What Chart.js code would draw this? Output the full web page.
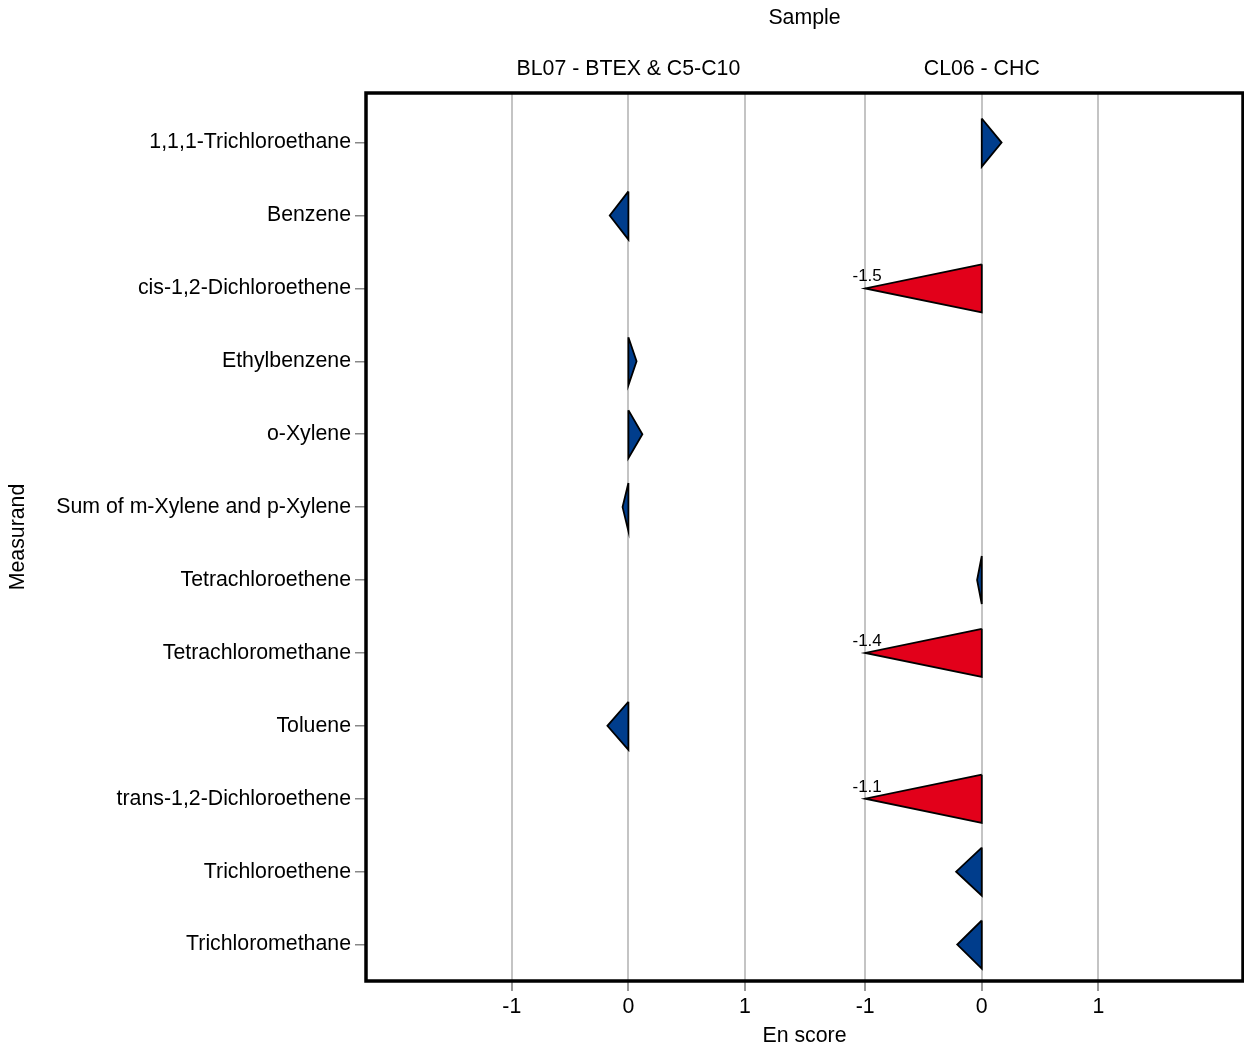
<!DOCTYPE html>
<html>
<head>
<meta charset="utf-8">
<script src="https://cdn.jsdelivr.net/npm/chart.js@4"></script>
<style>
body { margin: 0; background: #fff; }
#wrap { width: 1244px; height: 1050px; }
</style>
</head>
<body>
<div id="wrap"><canvas id="myChart"></canvas></div>
<script>
// Datos
const measurands = ['1,1,1-Trichloroethane', 'Benzene', 'cis-1,2-Dichloroethene', 'Ethylbenzene', 'o-Xylene',
    'Sum of m-Xylene and p-Xylene', 'Tetrachloroethene', 'Tetrachloromethane', 'Toluene',
    'trans-1,2-Dichloroethene', 'Trichloroethene', 'Trichloromethane']
const samples = ['BL07 - BTEX & C5-C10', 'CL06 - CHC']
const bl07 = [null, -0.16, null, 0.07, 0.12, -0.05, null, null, -0.18, null, null, null]
const cl06 = [0.17, null, -1.5, null, null, null, -0.04, -1.4, null, -1.1, -0.22, -0.21]
const xTickLabels = ['-1', '0', '1']
const xTickValues = [-1, 0, 1]
const panelOffset = [0, 3.03]

const font = '"Liberation Sans", Arial, sans-serif'
const azul = 'rgb(0, 61, 140)'
const rojo = 'rgb(226, 0, 26)'
const series = [bl07, cl06]

// triangulos
const datasets = []
series.forEach((serie, p) => {
    serie.forEach((v, i) => {
        if (v === null) return
        const shown = Math.max(-1, Math.min(1, v))
        const x0 = panelOffset[p]
        datasets.push({
            label: samples[p] + ' ' + measurands[i],
            data: [{ x: x0, y: i - 0.33 }, { x: x0 + shown, y: i }, { x: x0, y: i + 0.33 }, { x: x0, y: i - 0.33 }],
            showLine: true,
            fill: 'shape',
            backgroundColor: Math.abs(v) > 1 ? rojo : azul,
            borderColor: '#000',
            borderWidth: 1.8,
            borderJoinStyle: 'miter',
            pointRadius: 0,
            tension: 0
        })
    })
})

const extras = {
    id: 'extras',
    afterDatasetsDraw(chart) {
        const { ctx, chartArea, scales: { x, y } } = chart
        ctx.save()
        // etiquetas de valores fuera de rango
        ctx.font = '17px ' + font
        ctx.fillStyle = '#000'
        ctx.textAlign = 'center'
        ctx.textBaseline = 'alphabetic'
        series.forEach((serie, p) => serie.forEach((v, i) => {
            if (v === null || Math.abs(v) <= 1) return
            const px = x.getPixelForValue(panelOffset[p] + Math.sign(v))
            const py = y.getPixelForValue(i)
            ctx.fillText(v.toFixed(1), px + 2, py - 7)
        }))
        // marco
        ctx.strokeStyle = '#000'
        ctx.lineWidth = 3.5
        ctx.strokeRect(chartArea.left, chartArea.top, chartArea.right - chartArea.left, chartArea.bottom - chartArea.top)
        // titulos
        ctx.font = '21.3px ' + font
        ctx.textBaseline = 'middle'
        ctx.fillText('Sample', (chartArea.left + chartArea.right) / 2, 18)
        samples.forEach((s, p) => {
            ctx.fillText(s, x.getPixelForValue(panelOffset[p]), 69)
        })
        ctx.restore()
    }
}

const config = {
    type: 'scatter',
    data: { datasets },
    options: {
        responsive: true,
        maintainAspectRatio: false,
        animation: false,
        layout: { padding: { top: 93, right: 1, left: 0, bottom: 0 } },
        plugins: { legend: { display: false }, tooltip: { enabled: false } },
        scales: {
            x: {
                type: 'linear',
                min: -2.25,
                max: 5.27,
                afterBuildTicks: (scale) => {
                    const ticks = []
                    panelOffset.forEach(o => xTickValues.forEach(v => ticks.push({ value: o + v })))
                    scale.ticks = ticks
                },
                afterFit: (scale) => { scale.height = 69 },
                ticks: {
                    autoSkip: false,
                    maxRotation: 0,
                    padding: 3,
                    color: '#000',
                    font: { family: font, size: 21.3 },
                    callback: (value, index) => xTickLabels[index % 3]
                },
                grid: { color: '#c4c4c4', lineWidth: 2, tickLength: 10, tickColor: '#999' },
                border: { display: false },
                title: { display: true, text: 'En score', color: '#000', font: { family: font, size: 21.3 }, padding: { top: 0, bottom: 1 } }
            },
            y: {
                type: 'linear',
                min: -0.68,
                max: 11.5,
                reverse: true,
                afterBuildTicks: (scale) => {
                    scale.ticks = measurands.map((m, i) => ({ value: i }))
                },
                afterFit: (scale) => { scale.width = 366 },
                ticks: {
                    autoSkip: false,
                    padding: 4,
                    color: '#000',
                    font: { family: font, size: 21.3 },
                    callback: (value) => measurands[value]
                },
                grid: { drawOnChartArea: false, tickLength: 11, tickColor: '#888', lineWidth: 1.5 },
                border: { display: false },
                title: { display: true, text: 'Measurand', color: '#000', font: { family: font, size: 21.3 }, padding: { top: 5, bottom: 0 } }
            }
        }
    },
    plugins: [extras]
}

const myChart = document.getElementById('myChart')
window.myChart = new Chart(myChart, config)
</script>
</body>
</html>
